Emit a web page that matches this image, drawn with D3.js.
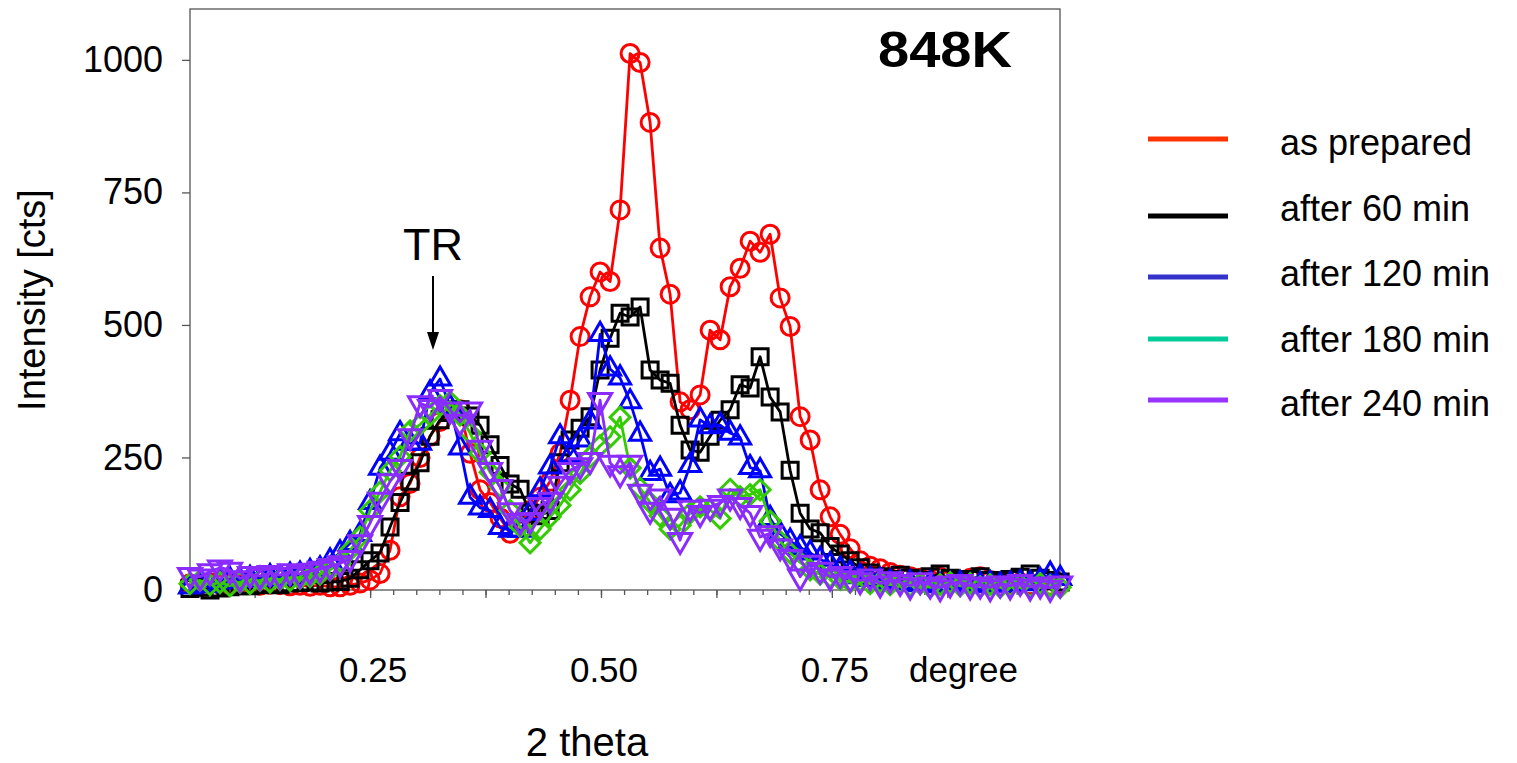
<!DOCTYPE html>
<html>
<head>
<meta charset="utf-8">
<script src="https://cdn.jsdelivr.net/npm/d3@7"></script>
<style>
  html, body { margin: 0; padding: 0; background: #fff; }
  svg { display: block; font-family: "Liberation Sans", Arial, Helvetica, sans-serif; }
</style>
</head>
<body>
<svg id="chart" width="1517" height="763"></svg>
<script>
// Scan grid (2 theta, degree): evenly stepped detector positions
const scanStart = 0.055;
const scanStep = 0.01083;

// Intensity [cts] at each scan position
const asPrepared = [
  12,10,14,11,12,10,13,9,11,10,8,9,7,9,
  6,6,9,13,19,31,
  75,176,201,250,290,318,338,340,
  258,189,165,136,107,128,
  150,175,205,258,358,478,553,
  600,582,717,1012,995,882,645,558,
  355,340,368,490,472,572,607,658,637,671,
  551,497,327,283,189,138,105,78,55,45,
  40,33,28,25,22,18,24,20,17,22,25,18,15,12,14,10,12,9,11
];
const after60 = [
  3,5,0,4,6,8,8,10,12,10,13,14,15,13,
  15,16,22,38,55,70,
  119,165,205,240,290,321,335,340,
  328,311,274,235,200,190,
  145,140,150,240,283,305,327,
  415,475,522,515,534,415,396,390,
  311,264,260,290,320,340,387,381,440,364,
  336,226,145,115,108,82,68,55,42,32,
  25,20,28,22,18,25,30,22,18,20,25,18,15,20,24,30,22,18,15
];
const after120 = [
  6,10,8,15,19,18,22,20,25,22,28,30,35,40,
  55,70,88,105,165,230,
  258,295,277,277,372,398,345,268,
  175,155,150,118,113,113,
  145,189,232,289,255,283,317,
  482,417,400,355,294,220,228,178,
  183,235,321,308,311,296,287,231,225,135,
  106,92,80,70,58,48,40,32,25,20,
  18,15,12,14,10,12,8,10,12,8,10,12,9,11,14,12,18,30,22
];
const after180 = [
  12,18,10,14,8,15,12,18,15,20,18,22,25,30,
  38,50,75,100,150,185,
  225,252,300,312,330,348,355,330,
  296,258,222,195,150,120,
  89,115,138,160,189,220,251,
  272,289,326,230,192,165,140,115,
  122,145,157,151,135,190,176,180,189,130,
  92,70,52,38,30,25,20,15,18,12,
  15,10,14,8,12,5,10,14,8,12,6,10,5,8,10,6,12,8,5
];
const after240 = [
  28,25,35,42,38,22,30,26,32,28,35,30,36,40,
  45,50,60,90,126,170,
  205,232,290,352,345,364,340,317,
  340,268,226,194,150,130,
  132,160,170,200,226,235,245,
  358,240,220,240,185,151,176,140,
  94,155,145,157,164,176,160,145,100,107,
  82,62,25,51,38,25,30,22,18,25,
  12,20,15,8,18,10,5,12,15,8,10,5,12,8,15,6,10,4,12
];

const seriesNames  = ["as prepared", "after 60 min", "after 120 min", "after 180 min", "after 240 min"];
const seriesValues = [asPrepared, after60, after120, after180, after240];
const markerColors = ["#ff0000", "#000000", "#0000ff", "#33cc00", "#8a2cff"];
const legendColors = ["#ff3300", "#000000", "#3333cc", "#00cc99", "#9933ff"];
const markerKinds  = ["circle", "square", "triangleUp", "diamond", "triangleDown"];

const yTickValues = [0, 250, 500, 750, 1000];
const xLabelValues = [0.25, 0.50, 0.75];
const xMajorTicks = [0.125, 0.25, 0.375, 0.5, 0.625, 0.75, 0.875];
const xMinorTicks = d3.range(0.075, 0.98, 0.025);

// Layout
const plot = { left: 190, right: 1060, top: 9, bottom: 590 };
const svg = d3.select("#chart");

const x = d3.scaleLinear().domain([0.055, 0.997]).range([plot.left, plot.right]);
const y = d3.scaleLinear().domain([0, 1096]).range([plot.bottom, plot.top]);

// Frame
svg.append("rect")
  .attr("x", plot.left).attr("y", plot.top)
  .attr("width", plot.right - plot.left).attr("height", plot.bottom - plot.top)
  .attr("fill", "none").attr("stroke", "#555").attr("stroke-width", 1.3);

// Y axis
const yAxis = svg.append("g")
  .attr("transform", `translate(${plot.left},0)`)
  .call(d3.axisLeft(y).tickValues(yTickValues).tickSize(8).tickPadding(19).tickFormat(d3.format("d")));
yAxis.select(".domain").remove();
yAxis.selectAll(".tick line").attr("stroke", "#555").attr("stroke-width", 1.3);
yAxis.selectAll(".tick text")
  .attr("font-size", 36).attr("fill", "#000")
  .style("font-family", '"Liberation Sans", Arial, sans-serif');

// X axis: minor and major ticks
const xMinor = svg.append("g")
  .attr("transform", `translate(0,${plot.bottom})`)
  .call(d3.axisBottom(x).tickValues(xMinorTicks).tickSize(5).tickFormat(""));
xMinor.select(".domain").remove();
xMinor.selectAll(".tick line").attr("stroke", "#555").attr("stroke-width", 1.3);

const xMajor = svg.append("g")
  .attr("transform", `translate(0,${plot.bottom})`)
  .call(d3.axisBottom(x).tickValues(xMajorTicks).tickSize(8).tickFormat(""));
xMajor.select(".domain").remove();
xMajor.selectAll(".tick line").attr("stroke", "#555").attr("stroke-width", 1.3);

svg.append("g").selectAll("text")
  .data(xLabelValues)
  .join("text")
  .attr("x", d => x(d) + 3)
  .attr("y", 682)
  .attr("text-anchor", "middle")
  .attr("font-size", 35)
  .text(d => d3.format(".2f")(d));

svg.append("text")
  .attr("x", 909).attr("y", 682)
  .attr("font-size", 35)
  .text("degree");

// Axis titles
svg.append("text")
  .attr("x", 587).attr("y", 756)
  .attr("text-anchor", "middle")
  .attr("font-size", 40)
  .text("2 theta");

svg.append("text")
  .attr("transform", "translate(45,300) rotate(-90)")
  .attr("text-anchor", "middle")
  .attr("font-size", 38)
  .text("Intensity [cts]");

// Series
const line = d3.line()
  .x((d, i) => x(scanStart + i * scanStep))
  .y(d => y(d));

const triUp = (s) => { const h = s * Math.sqrt(3) / 2; return `M0,${-2*h/3}L${s/2},${h/3}L${-s/2},${h/3}Z`; };
const triDown = (s) => { const h = s * Math.sqrt(3) / 2; return `M0,${2*h/3}L${s/2},${-h/3}L${-s/2},${-h/3}Z`; };
const diamond = (r) => `M0,${-r}L${r},0L0,${r}L${-r},0Z`;
const square = (s) => `M${-s/2},${-s/2}H${s/2}V${s/2}H${-s/2}Z`;

seriesValues.forEach((vals, k) => {
  const g = svg.append("g").attr("class", "series");
  g.append("path")
    .datum(vals)
    .attr("d", line)
    .attr("fill", "none")
    .attr("stroke", markerColors[k])
    .attr("stroke-width", 2.8)
    .attr("stroke-linejoin", "round");

  const pts = g.selectAll(".m")
    .data(vals)
    .join(markerKinds[k] === "circle" ? "circle" : "path")
    .attr("class", "m")
    .attr("fill", "none")
    .attr("stroke", markerColors[k])
    .attr("stroke-width", 3);

  if (markerKinds[k] === "circle") {
    pts.attr("cx", (d, i) => x(scanStart + i * scanStep))
       .attr("cy", d => y(d))
       .attr("r", 9);
  } else {
    const shape = {
      square: square(16),
      triangleUp: triUp(21),
      diamond: diamond(10),
      triangleDown: triDown(23)
    }[markerKinds[k]];
    pts.attr("d", shape)
       .attr("transform", (d, i) => `translate(${x(scanStart + i * scanStep)},${y(d)})`);
  }
});

// Annotation: TR with arrow
svg.append("text")
  .attr("x", 433).attr("y", 260)
  .attr("text-anchor", "middle")
  .attr("font-size", 45)
  .text("TR");
svg.append("line")
  .attr("x1", 433).attr("y1", 276).attr("x2", 433).attr("y2", 334)
  .attr("stroke", "#000").attr("stroke-width", 2);
svg.append("path")
  .attr("d", "M427,332L439,332L433,350Z")
  .attr("fill", "#000");

// Temperature label
svg.append("text")
  .attr("x", 878).attr("y", 67)
  .attr("font-size", 50)
  .attr("font-weight", "bold")
  .attr("textLength", 134)
  .attr("lengthAdjust", "spacingAndGlyphs")
  .text("848K");

// Legend
const legendLineY = [139, 216, 277, 339, 400];
const legendTextY = [155, 221, 286, 352, 416];
const legend = svg.append("g").attr("class", "legend");
seriesNames.forEach((name, k) => {
  legend.append("line")
    .attr("x1", 1148).attr("x2", 1228)
    .attr("y1", legendLineY[k]).attr("y2", legendLineY[k])
    .attr("stroke", legendColors[k]).attr("stroke-width", 5);
  legend.append("text")
    .attr("x", 1280).attr("y", legendTextY[k])
    .attr("font-size", 36)
    .text(name);
});
</script>
</body>
</html>
